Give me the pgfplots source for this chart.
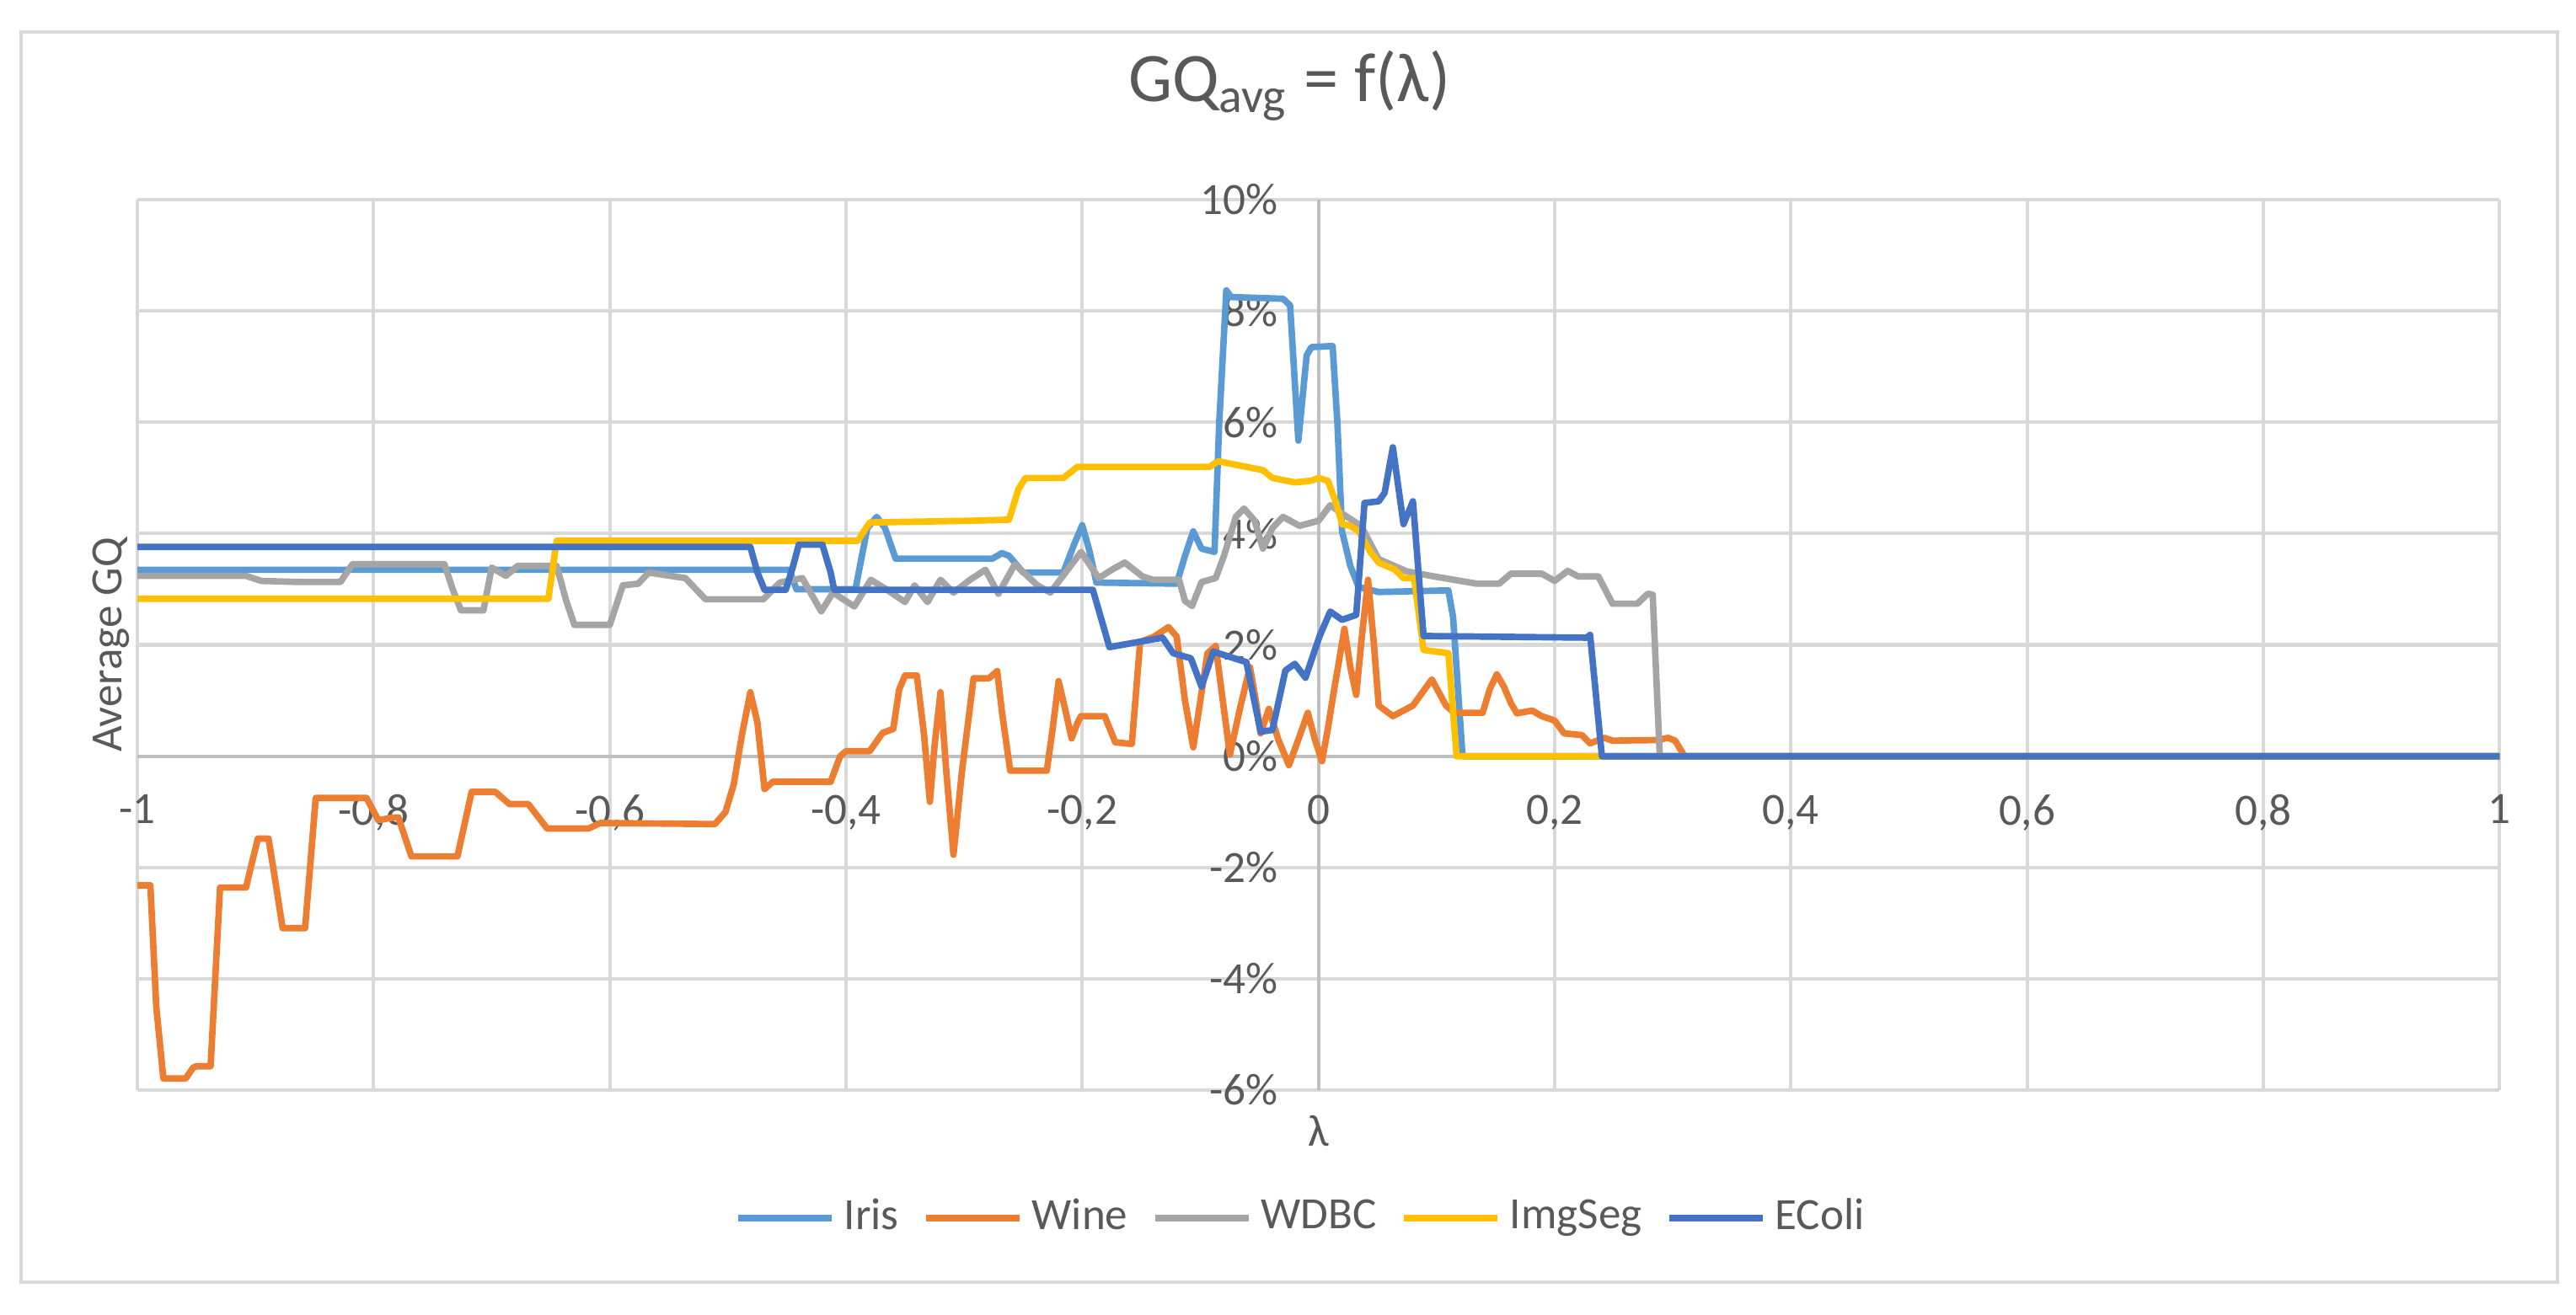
\documentclass[border=0pt]{standalone}
\usepackage{fontspec}
\setmainfont{Carlito}
\usepackage{pgfplots}
\pgfplotsset{compat=1.18}
\definecolor{cIris}{HTML}{5B9BD5}
\definecolor{cWine}{HTML}{ED7D31}
\definecolor{cWDBC}{HTML}{A5A5A5}
\definecolor{cImg}{HTML}{FFC000}
\definecolor{cEColi}{HTML}{4472C4}
\definecolor{txt}{HTML}{595959}
\definecolor{gridc}{HTML}{D9D9D9}
\definecolor{axc}{HTML}{BFBFBF}
\begin{document}
\begin{tikzpicture}
\useasboundingbox (0,0) rectangle (518.1pt,264.4pt);
\fill[white] (0,0) rectangle (518.1pt,264.4pt);
\draw[gridc, line width=0.6pt] (4.24pt,6.44pt) rectangle (514.4pt,257.97pt);
\begin{axis}[
  at={(27.63pt,45.08pt)}, anchor=south west,
  scale only axis, width=475.08pt, height=179.15pt,
  xmin=-1, xmax=1, ymin=-6, ymax=10,
  enlargelimits=false,
  axis lines=middle,
  axis line style={-, axc, line width=0.7pt},
  hide obscured x ticks=false, hide obscured y ticks=false,
  major tick length=0pt,
  grid=major,
  grid style={gridc, line width=0.7pt},
  xtick={-1,-0.8,-0.6,-0.4,-0.2,0,0.2,0.4,0.6,0.8,1},
  xticklabels={{-1},{-0,8},{-0,6},{-0,4},{-0,2},{0},{0,2},{0,4},{0,6},{0,8},{1}},
  ytick={-6,-4,-2,0,2,4,6,8,10},
  yticklabels={{-6\%},{-4\%},{-2\%},{0\%},{2\%},{4\%},{6\%},{8\%},{10\%}},
  tick label style={font=\fontsize{9}{10.8}\selectfont, text=txt},
  xticklabel style={anchor=north, inner sep=0pt, yshift=-7.6pt},
  yticklabel style={anchor=east, inner sep=0pt, xshift=-8pt},
  title={GQ\textsubscript{avg} = f(λ)},
  title style={at={(rel axis cs:0.4877,1.0766)}, anchor=base, font=\fontsize{14}{16.8}\selectfont, text=txt, inner sep=0pt},
  xlabel={λ}, ylabel={Average GQ},
  every axis x label/.style={at={(rel axis cs:0.5,-0.0454)}, anchor=center, font=\fontsize{9}{10.8}\selectfont, text=txt},
  every axis y label/.style={at={(rel axis cs:-0.011,0.5)}, rotate=90, anchor=center, font=\fontsize{9}{10.8}\selectfont, text=txt},
  legend style={draw=none, fill=none, at={(0.492,-0.1435)}, anchor=center, legend columns=5,
    font=\fontsize{9}{10.8}\selectfont, text=txt, inner sep=0pt,
    nodes={inner sep=0pt},
    /tikz/every odd column/.append style={column sep=1.9pt},
    /tikz/every even column/.append style={column sep=4.8pt}},
  legend cell align=left,
  legend image code/.code={\draw[#1, line width=1.3pt] (0pt,0pt) -- (18.8pt,0pt);},
  every axis plot/.append style={line width=1.3pt, line join=round, mark=none},
]
\addplot[cIris] coordinates {(-1,3.35) (-0.448,3.35) (-0.442,3.0) (-0.392,3.0) (-0.382,4.1) (-0.374,4.3) (-0.367,4.1) (-0.358,3.55) (-0.276,3.55) (-0.268,3.65) (-0.262,3.6) (-0.250,3.3) (-0.216,3.3) (-0.207,3.8) (-0.200,4.15) (-0.194,3.7) (-0.188,3.12) (-0.120,3.1) (-0.113,3.6) (-0.106,4.04) (-0.099,3.73) (-0.088,3.67) (-0.084,6.0) (-0.078,8.37) (-0.074,8.25) (-0.030,8.22) (-0.024,8.1) (-0.017,5.67) (-0.010,7.2) (-0.006,7.35) (0.012,7.37) (0.016,6.0) (0.020,4.04) (0.027,3.42) (0.034,3.04) (0.051,2.95) (0.110,2.98) (0.114,2.5) (0.122,0) (1,0)};
\addlegendentry{Iris}
\addplot[cWine] coordinates {(-1,-2.32) (-0.989,-2.32) (-0.984,-4.5) (-0.978,-5.79) (-0.959,-5.79) (-0.953,-5.6) (-0.950,-5.57) (-0.938,-5.57) (-0.930,-2.36) (-0.908,-2.36) (-0.904,-2.0) (-0.898,-1.48) (-0.889,-1.48) (-0.885,-2.0) (-0.877,-3.09) (-0.858,-3.09) (-0.849,-0.75) (-0.806,-0.75) (-0.796,-1.15) (-0.783,-1.1) (-0.779,-1.1) (-0.768,-1.8) (-0.729,-1.8) (-0.717,-0.64) (-0.697,-0.64) (-0.685,-0.86) (-0.669,-0.86) (-0.653,-1.3) (-0.618,-1.3) (-0.608,-1.2) (-0.511,-1.22) (-0.502,-1.0) (-0.495,-0.5) (-0.488,0.4) (-0.481,1.15) (-0.475,0.6) (-0.469,-0.59) (-0.462,-0.46) (-0.413,-0.46) (-0.405,0.0) (-0.400,0.09) (-0.380,0.09) (-0.369,0.42) (-0.360,0.49) (-0.355,1.2) (-0.350,1.45) (-0.340,1.45) (-0.334,0.4) (-0.329,-0.82) (-0.325,0.2) (-0.320,1.15) (-0.315,-0.3) (-0.309,-1.77) (-0.302,-0.3) (-0.292,1.4) (-0.279,1.4) (-0.272,1.53) (-0.268,0.8) (-0.261,-0.26) (-0.230,-0.26) (-0.225,0.5) (-0.220,1.35) (-0.214,0.8) (-0.209,0.32) (-0.204,0.6) (-0.201,0.72) (-0.181,0.72) (-0.172,0.25) (-0.158,0.22) (-0.151,2.05) (-0.139,2.15) (-0.127,2.32) (-0.120,2.15) (-0.113,1.0) (-0.106,0.16) (-0.100,1.0) (-0.094,1.85) (-0.087,1.98) (-0.081,1.0) (-0.075,0.03) (-0.066,0.9) (-0.058,1.6) (-0.053,1.0) (-0.049,0.41) (-0.042,0.85) (-0.034,0.3) (-0.025,-0.16) (-0.017,0.3) (-0.009,0.78) (-0.003,0.3) (0.003,-0.09) (0.008,0.5) (0.013,1.16) (0.022,2.29) (0.027,1.6) (0.032,1.1) (0.037,2.2) (0.042,3.17) (0.047,2.0) (0.051,0.91) (0.063,0.72) (0.080,0.91) (0.096,1.38) (0.108,0.91) (0.115,0.78) (0.139,0.78) (0.145,1.2) (0.151,1.47) (0.157,1.25) (0.163,0.95) (0.168,0.77) (0.181,0.82) (0.189,0.72) (0.200,0.64) (0.208,0.41) (0.223,0.38) (0.230,0.23) (0.242,0.33) (0.249,0.28) (0.287,0.29) (0.296,0.33) (0.302,0.28) (0.310,0) (1,0)};
\addlegendentry{Wine}
\addplot[cWDBC] coordinates {(-1,3.24) (-0.908,3.24) (-0.895,3.15) (-0.863,3.13) (-0.828,3.13) (-0.818,3.45) (-0.740,3.45) (-0.733,3.0) (-0.726,2.62) (-0.707,2.62) (-0.700,3.39) (-0.688,3.24) (-0.678,3.42) (-0.645,3.42) (-0.637,2.8) (-0.630,2.36) (-0.600,2.36) (-0.589,3.07) (-0.576,3.1) (-0.567,3.3) (-0.536,3.2) (-0.519,2.82) (-0.470,2.82) (-0.456,3.12) (-0.437,3.2) (-0.421,2.6) (-0.411,2.94) (-0.393,2.69) (-0.379,3.17) (-0.366,3.0) (-0.350,2.77) (-0.342,3.07) (-0.331,2.77) (-0.320,3.17) (-0.309,2.94) (-0.295,3.17) (-0.282,3.35) (-0.271,2.92) (-0.257,3.45) (-0.238,3.07) (-0.227,2.94) (-0.201,3.67) (-0.186,3.2) (-0.175,3.35) (-0.164,3.48) (-0.149,3.23) (-0.140,3.17) (-0.118,3.17) (-0.113,2.79) (-0.107,2.7) (-0.099,3.13) (-0.087,3.2) (-0.080,3.6) (-0.070,4.3) (-0.063,4.45) (-0.054,4.23) (-0.047,3.73) (-0.039,4.1) (-0.030,4.3) (-0.016,4.14) (0.0,4.23) (0.010,4.51) (0.020,4.36) (0.036,4.14) (0.051,3.54) (0.075,3.32) (0.098,3.23) (0.134,3.1) (0.153,3.1) (0.163,3.28) (0.189,3.28) (0.200,3.15) (0.211,3.33) (0.220,3.23) (0.237,3.23) (0.249,2.74) (0.270,2.74) (0.279,2.92) (0.283,2.9) (0.289,0) (1,0)};
\addlegendentry{WDBC}
\addplot[cImg] coordinates {(-1,2.83) (-0.652,2.83) (-0.645,3.87) (-0.390,3.87) (-0.380,4.2) (-0.295,4.23) (-0.262,4.25) (-0.254,4.8) (-0.248,5.0) (-0.216,5.0) (-0.204,5.2) (-0.092,5.2) (-0.085,5.3) (-0.047,5.14) (-0.039,5.0) (-0.020,4.92) (-0.006,4.95) (0.0,5.0) (0.008,4.95) (0.015,4.55) (0.020,4.17) (0.027,4.14) (0.034,4.04) (0.044,3.67) (0.051,3.48) (0.065,3.35) (0.072,3.2) (0.081,3.2) (0.089,1.91) (0.110,1.85) (0.117,0) (1,0)};
\addlegendentry{ImgSeg}
\addplot[cEColi] coordinates {(-1,3.76) (-0.481,3.76) (-0.475,3.3) (-0.469,2.99) (-0.451,2.99) (-0.445,3.4) (-0.440,3.8) (-0.420,3.8) (-0.413,3.3) (-0.410,2.99) (-0.191,2.99) (-0.177,1.96) (-0.132,2.13) (-0.123,1.85) (-0.108,1.76) (-0.099,1.25) (-0.089,1.88) (-0.061,1.69) (-0.049,0.44) (-0.039,0.47) (-0.028,1.54) (-0.020,1.66) (-0.011,1.41) (0.001,2.16) (0.010,2.6) (0.020,2.45) (0.032,2.54) (0.039,4.55) (0.051,4.58) (0.056,4.73) (0.063,5.55) (0.072,4.17) (0.080,4.58) (0.089,2.16) (0.227,2.13) (0.230,2.18) (0.240,0) (1,0)};
\addlegendentry{EColi}
\end{axis}
\end{tikzpicture}
\end{document}
